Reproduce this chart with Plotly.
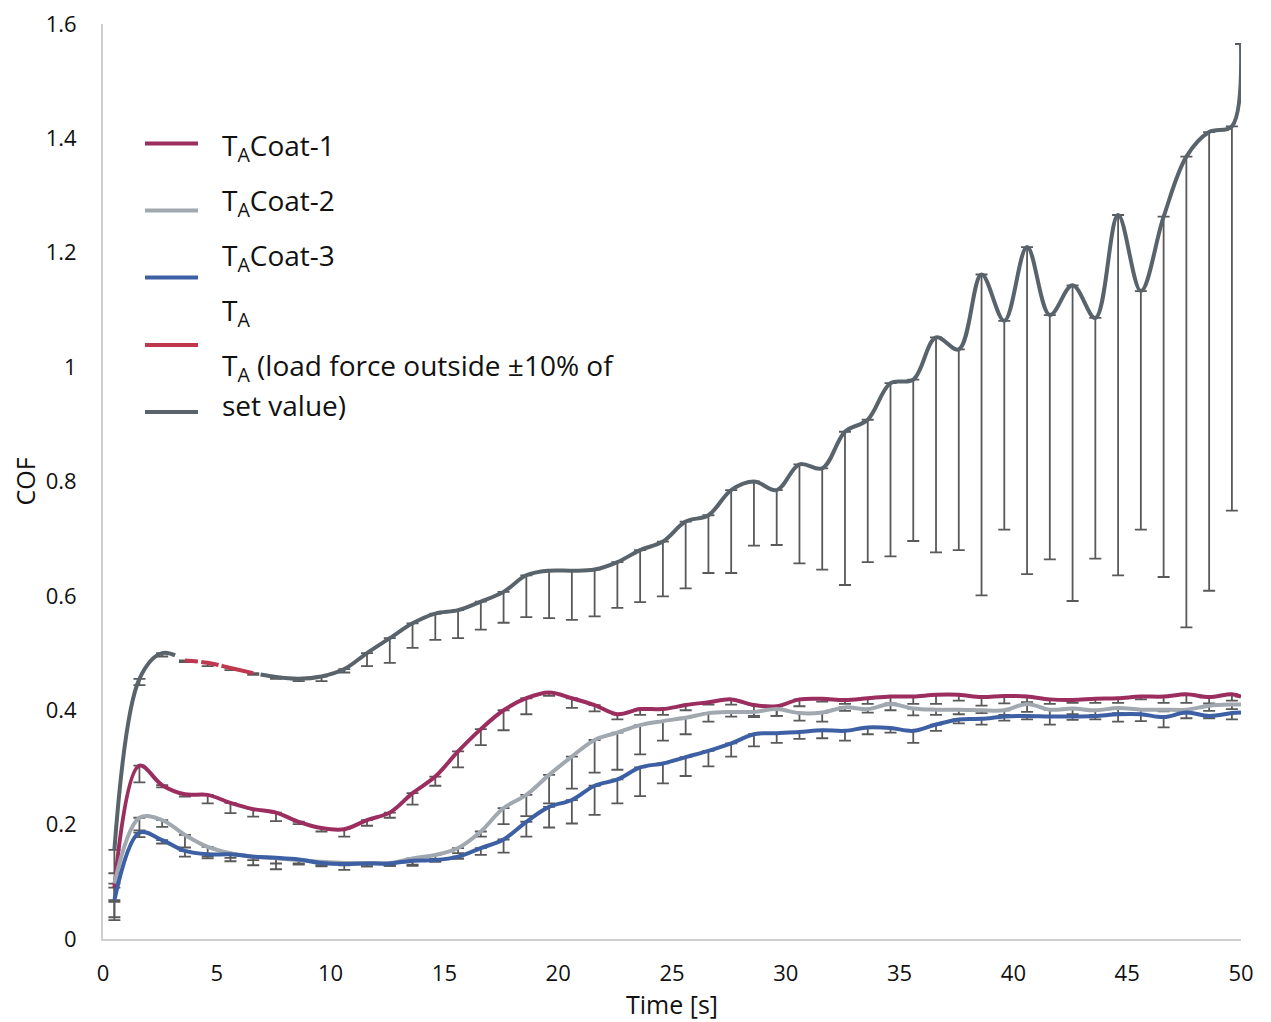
import plotly.graph_objects as go

# ---------------- data ----------------
time_s = [0.5, 1.6, 2.6, 3.6, 4.6, 5.6, 6.6, 7.6, 8.6, 9.6, 10.6, 11.6, 12.6, 13.6, 14.6,
          15.6, 16.6, 17.6, 18.6, 19.6, 20.6, 21.6, 22.6, 23.6, 24.6, 25.6, 26.6, 27.6,
          28.6, 29.6, 30.6, 31.6, 32.6, 33.6, 34.6, 35.6, 36.6, 37.6, 38.6, 39.6, 40.6,
          41.6, 42.6, 43.6, 44.6, 45.6, 46.6, 47.6, 48.6, 49.6, 50.0]

ta = [0.156, 0.455, 0.500, 0.487, 0.483, 0.474, 0.465, 0.458, 0.455, 0.459, 0.472,
      0.500, 0.526, 0.552, 0.569, 0.575, 0.590, 0.607, 0.636, 0.644, 0.644, 0.646,
      0.659, 0.680, 0.695, 0.730, 0.741, 0.785, 0.800, 0.785, 0.830, 0.823, 0.887,
      0.908, 0.972, 0.978, 1.052, 1.031, 1.162, 1.081, 1.210, 1.091, 1.143, 1.086,
      1.266, 1.133, 1.263, 1.368, 1.411, 1.421, 1.565]
ta_low = [0.115, 0.444, 0.494, 0.484, 0.477, 0.470, 0.462, 0.455, 0.451, 0.451, 0.466,
          0.477, 0.483, 0.509, 0.523, 0.526, 0.541, 0.553, 0.563, 0.561, 0.558, 0.564,
          0.579, 0.589, 0.599, 0.613, 0.640, 0.640, 0.688, 0.689, 0.657, 0.646, 0.619,
          0.659, 0.669, 0.696, 0.676, 0.680, 0.601, 0.716, 0.638, 0.664, 0.591, 0.665,
          0.636, 0.716, 0.633, 0.545, 0.609, 0.749, None]

coat1 = [0.090, 0.303, 0.269, 0.253, 0.252, 0.238, 0.227, 0.221, 0.205, 0.194, 0.192,
         0.208, 0.221, 0.255, 0.284, 0.328, 0.367, 0.400, 0.421, 0.431, 0.421, 0.409,
         0.393, 0.402, 0.402, 0.409, 0.414, 0.419, 0.409, 0.407, 0.419, 0.420, 0.418,
         0.421, 0.424, 0.424, 0.427, 0.427, 0.423, 0.425, 0.424, 0.419, 0.418, 0.420,
         0.421, 0.424, 0.424, 0.428, 0.423, 0.428, 0.424]
coat1_low = [0.038, 0.274, 0.265, 0.249, 0.237, 0.220, 0.214, 0.206, 0.201, 0.188, 0.179,
             0.198, 0.212, 0.235, 0.268, 0.300, 0.339, 0.365, 0.393, 0.425, 0.404, 0.398,
             0.384, 0.392, 0.392, 0.400, 0.410, 0.410, 0.390, 0.390, 0.407, 0.415, 0.411,
             0.411, 0.412, 0.411, 0.411, 0.417, 0.408, 0.412, 0.414, 0.411, 0.413, 0.413,
             0.413, 0.419, 0.413, 0.413, 0.412, 0.417, None]

coat2 = [0.097, 0.212, 0.208, 0.182, 0.161, 0.150, 0.144, 0.141, 0.138, 0.135, 0.133,
         0.133, 0.133, 0.141, 0.147, 0.159, 0.188, 0.229, 0.252, 0.287, 0.319, 0.348,
         0.361, 0.374, 0.381, 0.387, 0.395, 0.397, 0.397, 0.402, 0.395, 0.396, 0.405,
         0.402, 0.411, 0.403, 0.401, 0.401, 0.400, 0.400, 0.411, 0.401, 0.403, 0.400,
         0.404, 0.401, 0.401, 0.401, 0.408, 0.410, 0.410]
coat2_low = [0.065, 0.190, 0.196, 0.160, 0.144, 0.142, 0.138, 0.132, 0.132, 0.129, 0.129,
             0.127, 0.128, 0.130, 0.140, 0.150, 0.179, 0.201, 0.215, 0.237, 0.263, 0.291,
             0.296, 0.323, 0.347, 0.358, 0.380, 0.389, 0.388, 0.390, 0.382, 0.380, 0.399,
             0.396, 0.400, 0.391, 0.392, 0.393, 0.395, 0.392, 0.397, 0.389, 0.393, 0.392,
             0.395, 0.392, 0.398, 0.396, 0.399, 0.402, None]

coat3 = [0.068, 0.186, 0.173, 0.154, 0.148, 0.148, 0.144, 0.142, 0.139, 0.133, 0.131,
         0.132, 0.132, 0.137, 0.138, 0.144, 0.159, 0.174, 0.205, 0.231, 0.243, 0.268,
         0.279, 0.300, 0.307, 0.318, 0.329, 0.342, 0.358, 0.360, 0.362, 0.365, 0.364,
         0.370, 0.369, 0.364, 0.375, 0.384, 0.385, 0.389, 0.390, 0.389, 0.389, 0.390,
         0.393, 0.393, 0.388, 0.396, 0.390, 0.395, 0.396]
coat3_low = [0.033, 0.178, 0.167, 0.144, 0.141, 0.136, 0.129, 0.122, 0.130, 0.127, 0.121,
             0.127, 0.128, 0.128, 0.135, 0.140, 0.147, 0.151, 0.179, 0.195, 0.202, 0.217,
             0.237, 0.250, 0.272, 0.285, 0.302, 0.319, 0.337, 0.343, 0.350, 0.351, 0.347,
             0.358, 0.361, 0.343, 0.364, 0.377, 0.375, 0.382, 0.384, 0.375, 0.383, 0.384,
             0.380, 0.381, 0.370, 0.386, 0.386, 0.384, None]

# index range of T_A points where the load force was outside +-10 %
out_start, out_end = 3, 6

x_ticks = [0, 5, 10, 15, 20, 25, 30, 35, 40, 45, 50]
y_ticks = [0, 0.2, 0.4, 0.6, 0.8, 1.0, 1.2, 1.4, 1.6]
y_tick_text = ["0", "0.2", "0.4", "0.6", "0.8", "1", "1.2", "1.4", "1.6"]

legend_labels = ["T<sub>A</sub>Coat-1", "T<sub>A</sub>Coat-2", "T<sub>A</sub>Coat-3",
                 "T<sub>A</sub>", "T<sub>A</sub> (load force outside ±10% of", "set value)"]

# ---------------- style ----------------
C1 = "#9b2d5f"
C2 = "#a1a8b0"
C3 = "#3d5fa3"
CTA = "#59636b"
CRED = "#c0384f"
CERR = "#595959"
FONT = "Open Sans"
LW = 4

# page has an 8px body margin, so the figure is 8px smaller than the window
W, H = 1263, 1014
ML, MR, MT, MB = 95, 30, 16, 83
PW, PH = W - ML - MR, H - MT - MB
OFF = 8  # offset of figure on screen


def px_x(px):
    return (px - OFF - ML) / PW


def px_y(py):
    return (H - MB - (py - OFF)) / PH


def minus(vals, lows):
    return [None if lo is None else round(v - lo, 4) for v, lo in zip(vals, lows)]


fig = go.Figure()

# error bars (minus only)
for vals, lows in [(coat1, coat1_low), (coat2, coat2_low), (coat3, coat3_low), (ta, ta_low)]:
    fig.add_trace(go.Scatter(
        x=time_s, y=vals, mode="markers",
        marker=dict(size=1, opacity=0),
        error_y=dict(type="data", symmetric=False, array=[0] * len(vals),
                     arrayminus=minus(vals, lows), color=CERR, thickness=1.8, width=6),
        showlegend=False, hoverinfo="skip"))

spline = dict(shape="spline", smoothing=1.0, width=LW)

for vals, col in [(coat1, C1), (coat2, C2), (coat3, C3)]:
    fig.add_trace(go.Scatter(x=time_s, y=vals, mode="lines",
                             line=dict(color=col, **spline), showlegend=False))

# T_A: before, during and after the out-of-tolerance load segment
fig.add_trace(go.Scatter(x=time_s[:out_start + 1], y=ta[:out_start + 1], mode="lines",
                         line=dict(color=CTA, dash="222px,200px", **spline), showlegend=False))
fig.add_trace(go.Scatter(x=time_s[out_start:out_end + 1], y=ta[out_start:out_end + 1], mode="lines",
                         line=dict(color=CRED, dash="13px,3px,18px,3px,40px", **spline),
                         showlegend=False))
fig.add_trace(go.Scatter(x=time_s[out_end:], y=ta[out_end:], mode="lines",
                         line=dict(color=CTA, dash="0px,7px,8000px", **spline), showlegend=False))

# manual legend (line samples + labels)
leg_line_y = [143.5, 210.5, 277.5, 345, 412]
leg_cols = [C1, C2, C3, CRED, CTA]
for yy, col in zip(leg_line_y, leg_cols):
    fig.add_shape(type="line", xref="paper", yref="paper",
                  x0=px_x(145), x1=px_x(198), y0=px_y(yy), y1=px_y(yy),
                  line=dict(color=col, width=LW))
leg_text_y = [146.7, 201.7, 256.7, 311.7, 366.7, 405]
for yy, txt in zip(leg_text_y, legend_labels):
    fig.add_annotation(xref="paper", yref="paper", x=px_x(220), y=px_y(yy),
                       text=txt, showarrow=False, xanchor="left", yanchor="middle",
                       font=dict(family=FONT, size=28, color="#111111"))

fig.update_layout(
    width=W, height=H,
    margin=dict(l=ML, r=MR, t=MT, b=MB, autoexpand=False),
    paper_bgcolor="white", plot_bgcolor="white",
    font=dict(family=FONT, size=22, color="#111111"),
    showlegend=False,
)
fig.update_xaxes(range=[0, 50], tickvals=x_ticks, showgrid=False, zeroline=False,
                 showline=True, linecolor="#cfcfcf", linewidth=2, ticks="",
                 automargin=False,
                 ticklabelstandoff=14, ticklabeloverflow="allow",
                 title=dict(text="Time [s]", font=dict(size=25), standoff=6))
fig.update_yaxes(range=[0, 1.6], tickvals=y_ticks, ticktext=y_tick_text, showgrid=False,
                 zeroline=False, showline=True, linecolor="#cfcfcf", linewidth=2, ticks="",
                 automargin=False,
                 ticklabelstandoff=20, ticklabeloverflow="allow",
                 title=dict(text="COF", font=dict(size=25), standoff=8))

fig.write_html("out.html")
